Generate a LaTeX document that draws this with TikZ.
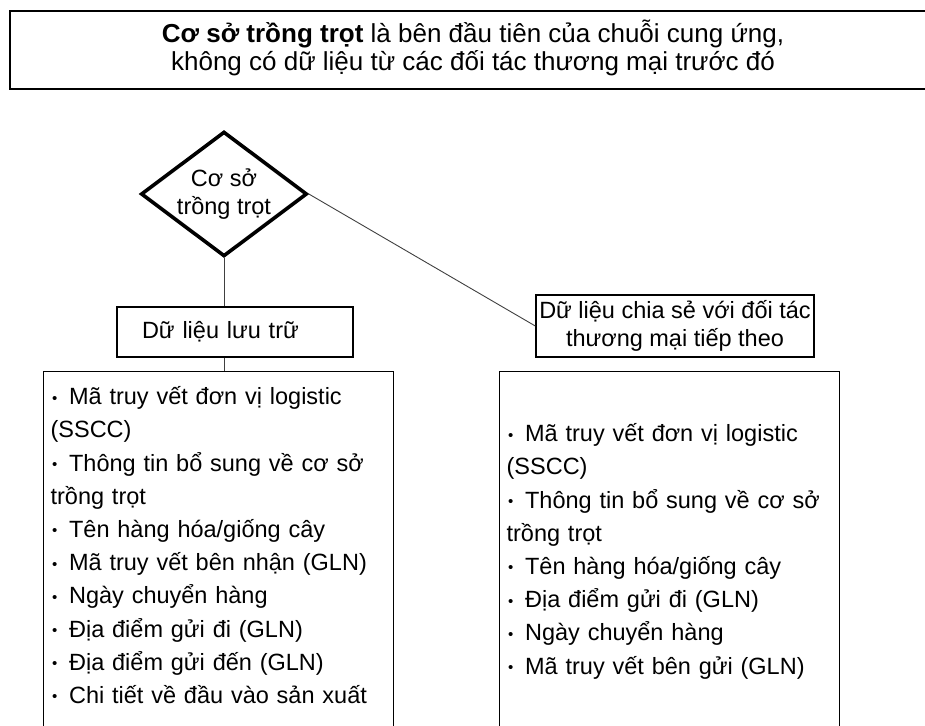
\documentclass[tikz,border=0pt]{standalone}
\usepackage{fontspec}
\setmainfont{Liberation Sans}
\usetikzlibrary{shapes.geometric,calc}

% small bullet followed by a fixed indent for list items
\newcommand\itm{\makebox[18.5pt][l]{\hspace{1.5pt}\raisebox{1.5pt}{\fontsize{15}{15}\selectfont •}}}

\begin{document}
\begin{tikzpicture}[x=1pt,y=-1pt,
  basefont/.style={font=\fontsize{23.5}{28}\selectfont},
  frame/.style={draw,line width=2.4pt},
  decision/.style={diamond,aspect=1.33,draw,line width=3.6pt,basefont,
    align=center,inner sep=1pt},
  hdr/.style={draw,line width=1.4pt,basefont,inner sep=0pt},
  listbox/.style={draw,line width=1.2pt,anchor=north west,align=left,
    font=\fontsize{23.5}{33.2}\selectfont,inner xsep=7pt,inner ysep=11pt},
  conn/.style={line width=0.9pt,black!75}]
\useasboundingbox (0,0) rectangle (925,725);

% heading; its frame is open on the right and runs off the edge
\node[font=\fontsize{26}{28}\selectfont,align=center] (titletext) at (473,48)
  {{\bfseries Cơ sở trồng trọt} là bên đầu tiên của chuỗi cung ứng,\\
   không có dữ liệu từ các đối tác thương mại trước đó};
\draw[frame] (940,11) -- (10,11) -- (10,89) -- (940,89);

% decision diamond
\node[decision] (dia) at (224,194) {Cơ sở\\trồng trọt};

% column headers
\node[hdr,text width=186pt,inner xsep=25pt,align=left,minimum height=50pt]
  (hdrL) at (235,332) {Dữ liệu lưu trữ};
\node[hdr,minimum width=278pt,minimum height=62pt,align=center]
  (hdrR) at (675,326) {Dữ liệu chia sẻ với đối tác\\thương mại tiếp theo};

% data lists
\node[listbox,text width=336pt,text height=22pt,text depth=345pt]
  (listL) at (43,371)
  {\itm Mã truy vết đơn vị logistic\\
   (SSCC)\\
   \itm Thông tin bổ sung về cơ sở\\
   trồng trọt\\
   \itm Tên hàng hóa/giống cây\\
   \itm Mã truy vết bên nhận (GLN)\\
   \itm Ngày chuyển hàng\\
   \itm Địa điểm gửi đi (GLN)\\
   \itm Địa điểm gửi đến (GLN)\\
   \itm Chi tiết về đầu vào sản xuất};
\node[listbox,text width=326pt,text height=59pt,text depth=308pt]
  (listR) at (499,371)
  {\itm Mã truy vết đơn vị logistic\\
   (SSCC)\\
   \itm Thông tin bổ sung về cơ sở\\
   trồng trọt\\
   \itm Tên hàng hóa/giống cây\\
   \itm Địa điểm gửi đi (GLN)\\
   \itm Ngày chuyển hàng\\
   \itm Mã truy vết bên gửi (GLN)};

% connectors
\draw[conn] (dia.south) -- (dia.south |- hdrL.north);
\draw[conn] (dia.south |- hdrL.south) -- (dia.south |- listL.north);
\draw[conn] (dia.east) -- (hdrR.west);
\end{tikzpicture}
\end{document}
